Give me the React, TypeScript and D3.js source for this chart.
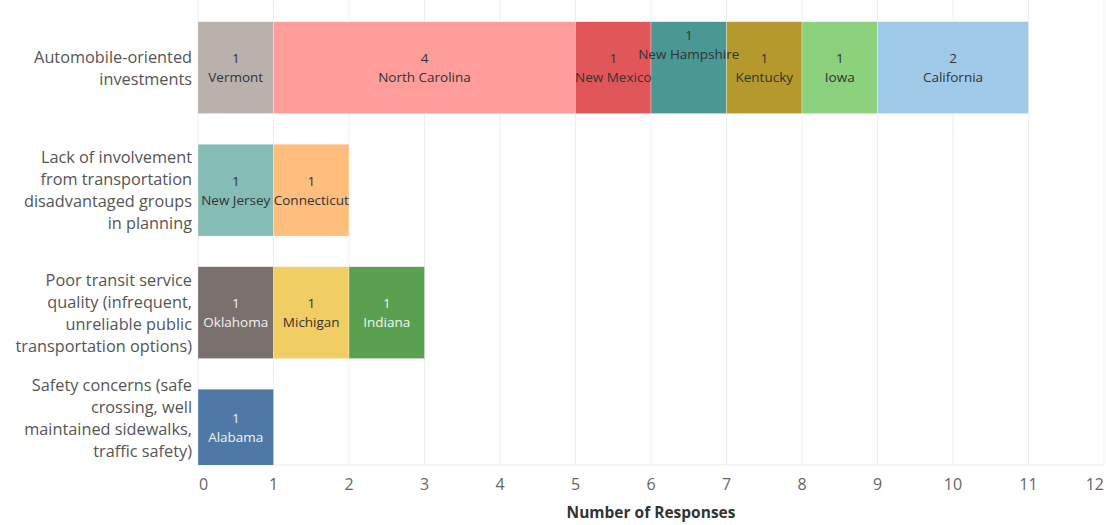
import React from "react";
import * as d3 from "d3";

// Barrier categories (y axis), top to bottom
const categories = [
  "Automobile-oriented investments",
  "Lack of involvement from transportation disadvantaged groups in planning",
  "Poor transit service quality (infrequent, unreliable public transportation options)",
  "Safety concerns (safe crossing, well maintained sidewalks, traffic safety)",
];

// Wrapped y-axis label lines for each category
const categoryLines = [
  ["Automobile-oriented", "investments"],
  ["Lack of involvement", "from transportation", "disadvantaged groups", "in planning"],
  ["Poor transit service", "quality (infrequent,", "unreliable public", "transportation options)"],
  ["Safety concerns (safe", "crossing, well", "maintained sidewalks,", "traffic safety)"],
];

// Stacked segments: state responses per category, in stacking order
const automobileStates = ["Vermont", "North Carolina", "New Mexico", "New Hampshire", "Kentucky", "Iowa", "California"];
const automobileCounts = [1, 4, 1, 1, 1, 1, 2];

const involvementStates = ["New Jersey", "Connecticut"];
const involvementCounts = [1, 1];

const transitStates = ["Oklahoma", "Michigan", "Indiana"];
const transitCounts = [1, 1, 1];

const safetyStates = ["Alabama"];
const safetyCounts = [1];

const xTicks = [0, 1, 2, 3, 4, 5, 6, 7, 8, 9, 10, 11, 12];

// Palette per state
const stateColor: Record<string, string> = {
  Vermont: "#bab0ac",
  "North Carolina": "#ff9d9a",
  "New Mexico": "#e15759",
  "New Hampshire": "#499894",
  Kentucky: "#b6992d",
  Iowa: "#8cd17d",
  California: "#a0cbe8",
  "New Jersey": "#86bcb6",
  Connecticut: "#ffbe7d",
  Oklahoma: "#79706e",
  Michigan: "#f1ce63",
  Indiana: "#59a14f",
  Alabama: "#4e79a7",
};

// States on dark fills get light label text
const lightText = new Set(["Oklahoma", "Indiana", "Alabama"]);
// Labels nudged upward to avoid collision with neighbours
const labelLift: Record<string, number> = { "New Hampshire": 23 };

const W = 1106;
const H = 525;
const FONT = "'Open Sans', 'Noto Sans', sans-serif";

export default function App() {
  const x = d3.scaleLinear().domain([0, 12]).range([198, 1104]);
  const y = d3
    .scaleBand<string>()
    .domain(categories)
    .range([6.4, 496.4])
    .paddingInner(0.25)
    .paddingOuter(0.125);
  const axisY = 465;

  const groups = [
    { cat: categories[0], states: automobileStates, counts: automobileCounts },
    { cat: categories[1], states: involvementStates, counts: involvementCounts },
    { cat: categories[2], states: transitStates, counts: transitCounts },
    { cat: categories[3], states: safetyStates, counts: safetyCounts },
  ];

  const segments = groups.flatMap((g) => {
    const cum = d3.cumsum(g.counts);
    return g.states.map((s, i) => ({
      cat: g.cat,
      state: s,
      value: g.counts[i],
      x0: cum[i] - g.counts[i],
      x1: cum[i],
    }));
  });

  const lineH = 22;

  return (
    <svg width={W} height={H} style={{ position: "absolute", left: 0, top: 0 }}>
      <defs>
        <clipPath id="plotClip">
          <rect x={0} y={0} width={W} height={axisY} />
        </clipPath>
      </defs>
      <rect width={W} height={H} fill="#fff" />
      {/* vertical gridlines */}
      {xTicks.map((t) => (
        <line key={t} x1={x(t)} x2={x(t)} y1={0} y2={axisY} stroke="#efefef" strokeWidth={1} />
      ))}
      <line x1={198} x2={1104} y1={axisY} y2={axisY} stroke="#ececec" strokeWidth={1} />

      {/* bars */}
      <g clipPath="url(#plotClip)">
        {segments.map((d) => (
          <rect
            key={d.state}
            x={x(d.x0)}
            y={y(d.cat)!}
            width={x(d.x1) - x(d.x0)}
            height={y.bandwidth()}
            fill={stateColor[d.state]}
            stroke="#ffffff"
            strokeOpacity={0.5}
            strokeWidth={0.6}
          />
        ))}
      </g>

      {/* bar labels */}
      {segments.map((d) => {
        const cx = (x(d.x0) + x(d.x1)) / 2;
        const top = y(d.cat)!;
        const visBottom = Math.min(top + y.bandwidth(), axisY);
        const cy = (top + visBottom) / 2 - (labelLift[d.state] || 0);
        const col = lightText.has(d.state) ? "#f2f2f2" : "#333333";
        return (
          <g key={"l" + d.state} fontFamily={FONT} fontSize={13.5} fill={col} textAnchor="middle">
            <text x={cx} y={cy - 4.5}>{d.value}</text>
            <text x={cx} y={cy + 14.5}>{d.state}</text>
          </g>
        );
      })}

      {/* y-axis category labels */}
      {categories.map((c, i) => {
        const lines = categoryLines[i];
        const block = lines.length * lineH;
        const center = Math.min(y(c)! + y.bandwidth() / 2, axisY - block / 2 - 3);
        const start = center - block / 2 + lineH / 2;
        return (
          <g key={c} fontFamily={FONT} fontSize={16.3} fill="#555" textAnchor="end">
            {lines.map((ln, j) => (
              <text key={j} x={192} y={start + j * lineH} dominantBaseline="central">
                {ln}
              </text>
            ))}
          </g>
        );
      })}

      {/* x-axis tick labels */}
      {xTicks.map((t, i) => (
        <text
          key={"t" + t}
          x={i === 0 ? x(t) + 1 : x(t)}
          y={490}
          fontFamily={FONT}
          fontSize={16}
          fill="#666"
          textAnchor={i === 0 ? "start" : i === xTicks.length - 1 ? "end" : "middle"}
        >
          {t}
        </text>
      ))}

      <text x={651} y={518} fontFamily={FONT} fontSize={15.5} fontWeight="bold" fill="#333" textAnchor="middle">
        Number of Responses
      </text>
    </svg>
  );
}
